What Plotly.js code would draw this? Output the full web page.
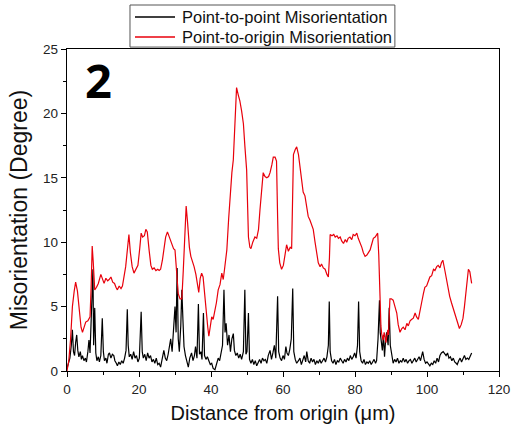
<!DOCTYPE html>
<html>
<head>
<meta charset="utf-8">
<script src="https://cdn.plot.ly/plotly-3.0.1.min.js"></script>
<style>html,body{margin:0;padding:0;background:#fff;}#chart{width:518px;height:436px;}</style>
</head>
<body>
<div id="chart"></div>
<script>
// Point-to-point misorientation (black)
const p2pX = [0,0.4,0.8,1.2,1.5,1.8,2.1,2.4,2.7,3.0,3.3,3.7,4.0,4.3,4.7,5.1,5.4,5.8,6.1,6.4,6.7,7.0,7.2,7.4,7.7,8.0,8.3,8.7,9.0,9.4,9.8,10.1,10.4,10.8,11.1,11.5,11.8,12.2,12.6,13.0,13.3,13.7,14.0,14.4,14.8,15.2,15.6,16.0,16.4,16.75,17.0,17.3,17.7,18.1,18.5,18.9,19.3,19.7,20.1,20.6,20.9,21.2,21.6,22.0,22.4,22.8,23.2,23.6,24.0,24.4,24.8,25.2,25.6,26.0,26.4,26.9,27.3,27.7,28.1,28.5,28.8,29.2,29.6,30.0,30.3,30.6,30.9,31.2,31.6,31.9,32.2,32.5,32.9,33.3,33.7,34.1,34.6,35.0,35.4,35.7,36.1,36.5,36.8,37.2,37.5,37.9,38.2,38.6,39.0,39.4,39.8,40.2,40.6,41.1,41.5,42.0,42.4,42.8,43.2,43.6,43.9,44.2,44.6,45.0,45.4,45.8,46.2,46.5,46.9,47.3,47.7,48.1,48.5,49.0,49.4,49.7,50.0,50.4,50.7,51.1,51.5,51.9,52.3,52.7,53.1,53.5,53.9,54.3,54.7,55.1,55.5,55.9,56.4,56.8,57.2,57.6,58.0,58.5,58.8,59.2,59.6,60.0,60.4,60.8,61.1,61.5,61.9,62.3,62.7,63.0,63.4,63.8,64.3,64.7,65.1,65.5,65.9,66.3,66.6,67.0,67.4,67.8,68.2,68.6,69.0,69.4,69.8,70.2,70.6,71.0,71.4,71.8,72.2,72.6,72.85,73.1,73.5,73.9,74.3,74.7,75.1,75.5,75.9,76.3,76.7,77.1,77.5,77.9,78.3,78.7,79.1,79.5,79.9,80.3,80.7,81.0,81.3,81.7,82.1,82.5,82.9,83.3,83.7,84.1,84.5,84.9,85.3,85.7,86.0,86.4,86.8,87.0,87.3,87.6,87.9,88.2,88.5,88.8,89.2,89.5,89.8,90.2,90.6,91.0,91.4,91.8,92.2,92.6,93.0,93.4,93.8,94.2,94.6,95.0,95.4,95.8,96.2,96.6,97.0,97.4,97.8,98.2,98.5,98.8,99.2,99.6,100.0,100.4,100.8,101.2,101.6,102.0,102.4,102.8,103.2,103.6,104.0,104.5,104.9,105.3,105.7,106.1,106.5,106.9,107.3,107.7,108.1,108.4,108.8,109.2,109.6,110.0,110.4,110.8,111.2,111.6,112.0,112.4];
const p2pY = [0.2,0.6,1.0,2.0,3.2,1.5,1.2,2.2,2.8,1.6,1.1,1.5,0.9,1.2,0.8,1.0,0.7,1.5,2.4,1.4,3.5,6.0,7.9,2.0,4.9,1.4,0.8,1.1,0.7,1.2,4.1,1.5,0.8,1.0,0.6,1.3,1.4,1.0,1.3,1.2,0.8,0.6,0.4,0.7,0.5,0.8,0.6,1.0,1.6,4.8,2.0,1.1,1.3,0.9,1.5,1.0,1.2,0.7,1.0,4.6,1.5,1.0,1.3,0.8,1.4,1.0,1.2,0.7,0.9,0.6,1.0,0.5,0.6,0.3,0.8,1.6,1.0,0.8,1.3,1.9,2.5,1.5,3.0,5.0,3.0,8.0,2.5,1.5,3.5,6.3,4.0,1.9,1.2,0.6,0.3,1.0,1.4,0.8,1.2,1.9,1.0,5.2,1.3,1.5,0.9,4.5,1.2,0.9,1.1,0.8,0.5,0.6,0.2,0.1,0.5,1.0,0.8,1.5,2.0,6.3,3.0,3.7,2.0,2.8,1.5,2.5,2.9,1.6,1.2,1.4,1.0,1.3,0.9,1.5,6.3,1.3,1.5,4.5,0.9,0.6,0.9,0.5,0.8,0.4,0.7,0.9,0.6,1.0,0.8,0.9,0.6,1.2,1.6,0.9,1.4,2.0,1.0,5.8,1.5,1.0,0.8,1.2,0.9,1.9,1.4,1.2,1.7,2.5,6.4,1.5,0.9,0.6,0.8,1.0,0.5,0.9,1.2,0.7,1.5,0.8,0.6,1.0,0.7,0.9,0.5,0.8,0.6,0.9,0.6,0.8,1.0,0.7,1.1,2.0,5.4,1.5,0.8,0.6,0.9,0.5,0.8,0.7,1.0,0.8,0.6,0.9,0.7,1.0,0.8,1.2,0.9,1.1,1.4,1.0,2.0,5.4,1.5,0.8,0.6,0.9,0.5,0.7,0.6,0.8,0.5,0.7,0.9,0.6,0.8,2.5,5.5,3.0,2.2,1.6,2.8,1.1,2.4,3.0,2.0,4.9,2.0,1.2,0.6,0.9,0.7,1.0,0.6,0.8,0.7,1.0,0.7,0.9,0.6,0.8,0.9,0.6,0.8,1.0,0.7,0.9,1.1,0.8,1.2,1.5,0.9,0.6,0.7,0.5,0.4,0.6,0.5,0.8,0.6,1.0,0.7,1.2,1.4,1.5,1.3,1.2,1.4,1.0,1.1,0.8,1.0,0.7,0.6,0.5,0.8,1.0,0.7,1.0,1.2,0.9,1.0,0.9,1.2,1.4];

// Point-to-origin misorientation (red)
const p2oX = [0,0.5,1.0,1.5,2.0,2.4,2.9,3.4,3.9,4.3,4.8,5.2,5.8,6.4,6.7,7.0,7.3,7.7,8.2,8.7,9.4,9.9,10.3,10.8,11.3,11.7,12.2,12.7,13.2,13.6,14.0,14.5,15.0,15.4,15.9,16.3,16.8,17.2,17.6,18.1,18.6,19.2,19.7,20.2,20.6,21.0,21.5,21.9,22.3,22.8,23.3,23.7,24.2,24.7,25.2,25.6,26.0,26.5,26.9,27.4,27.9,28.3,28.8,29.2,29.6,30.0,30.3,30.5,30.9,31.4,31.9,32.3,32.7,33.1,33.5,34.0,34.4,34.9,35.3,35.8,36.2,36.6,37.0,37.4,37.8,38.3,38.7,39.1,39.4,39.8,40.2,40.6,41.1,41.5,42.0,42.5,43.0,43.4,43.8,44.4,44.9,45.3,45.8,46.2,46.6,47.1,47.6,48.0,48.5,49.0,49.4,49.9,50.2,50.4,50.8,51.1,51.6,52.2,52.7,53.2,53.6,54.1,54.5,55.0,55.5,56.0,56.4,56.9,57.3,57.8,58.2,58.5,58.7,59.1,59.6,60.1,60.6,61.0,61.5,62.0,62.4,62.7,62.9,63.4,63.8,64.3,64.8,65.2,65.6,66.1,66.6,67.0,67.5,68.0,68.4,68.9,69.4,69.8,70.3,70.7,71.2,71.7,72.2,72.6,72.9,73.1,73.6,74.1,74.5,75.0,75.4,75.9,76.3,76.8,77.3,77.7,78.1,78.6,79.1,79.5,80.0,80.5,80.9,81.4,81.9,82.3,82.8,83.3,83.8,84.2,84.7,85.1,85.6,86.0,86.3,86.6,86.9,87.2,87.4,87.8,88.1,88.3,88.6,88.8,89.1,89.3,89.5,89.7,90.1,90.6,91.1,91.6,92.0,92.5,93.0,93.4,93.9,94.4,94.8,95.3,95.7,96.2,96.7,97.1,97.6,98.1,98.5,99.0,99.4,99.9,100.3,100.8,101.3,101.8,102.2,102.7,103.1,103.6,104.0,104.4,104.9,105.3,105.8,106.3,106.8,107.3,107.8,108.2,108.6,109.0,109.5,110.0,110.4,110.8,111.2,111.5,111.9,112.2,112.4];
const p2oY = [0,0.8,2.5,5.0,6.2,6.9,6.2,4.5,3.4,3.0,3.4,3.8,3.9,4.2,6.5,9.7,8.4,6.3,6.5,6.8,7.5,7.0,6.8,7.2,7.0,7.1,7.3,6.9,6.8,6.5,6.3,6.6,6.4,6.6,7.5,8.1,9.5,10.6,9.2,8.1,7.6,8.0,8.2,9.5,10.7,10.4,10.5,11.0,10.8,9.4,8.2,7.9,8.0,7.8,7.9,7.8,7.9,8.6,9.6,10.4,10.8,10.5,10.2,9.8,9.5,9.4,8.2,7.3,6.0,5.6,5.6,7.8,10.8,12.8,11.5,9.6,8.9,8.5,8.1,7.5,6.7,6.1,7.2,7.6,7.3,5.6,4.5,3.4,2.7,3.6,4.2,4.0,4.6,5.3,6.3,6.7,7.6,7.1,8.0,9.4,11.8,13.8,15.4,16.4,19.5,22.0,21.4,21.0,20.2,19.2,17.5,15.6,12.5,10.4,9.6,9.5,10.0,10.4,10.3,11.0,12.5,14.0,15.4,15.1,15.0,15.1,15.4,16.0,16.6,16.6,16.3,12.0,9.5,8.4,7.9,8.2,9.3,9.8,9.3,9.6,9.5,13.5,16.8,17.2,17.4,16.8,15.6,15.1,13.9,13.6,12.8,12.0,11.7,11.3,11.0,10.0,9.0,8.4,8.1,8.3,8.0,7.9,7.5,7.3,8.8,10.6,10.5,10.6,10.4,10.5,10.3,10.4,10.1,9.9,10.2,10.0,10.3,10.4,10.2,10.6,10.5,10.7,10.3,10.0,9.6,9.2,8.9,9.0,9.2,9.4,9.9,10.3,10.4,10.6,10.7,9.0,5.8,3.5,2.9,2.4,3.0,2.7,2.2,2.6,3.2,2.8,4.5,5.6,5.6,5.5,5.0,4.5,3.6,3.0,3.3,3.4,3.2,3.7,3.5,3.9,4.0,4.1,4.5,4.2,4.0,4.6,5.3,6.0,6.5,6.6,7.0,7.3,7.4,7.9,7.8,8.1,8.2,8.0,8.4,8.6,7.9,7.2,6.4,5.8,5.3,4.8,4.3,3.9,3.5,3.3,3.6,4.1,5.0,6.1,7.5,7.9,7.7,7.3,6.8];

const seriesNames = ["Point-to-point Misorientation", "Point-to-origin Misorientation"];
const seriesColors = ["#000000", "#e8000b"];
const xTitle = "Distance from origin (\u03bcm)";
const yTitle = "Misorientation (Degree)";
const panelLabel = "2";

const traces = [
  {x: p2pX, y: p2pY, name: seriesNames[0], type: "scatter", mode: "lines",
   line: {color: seriesColors[0], width: 1.2}},
  {x: p2oX, y: p2oY, name: seriesNames[1], type: "scatter", mode: "lines",
   line: {color: seriesColors[1], width: 1.2}}
];

const fam = "Liberation Sans, Arial, sans-serif";
const axisCommon = {
  showline: true, linecolor: "#000", linewidth: 1.3, mirror: true,
  showgrid: false, zeroline: false,
  ticks: "outside", ticklen: 5, tickwidth: 1, tickcolor: "#000",
  tickfont: {family: fam, size: 13.5, color: "#222"}
};

// hand-drawn legend box (text stays real text)
const legBox = {x0: 0.1458, x1: 0.759, y0: 1.006, y1: 1.1366};
const legRowsY = [1.0994, 1.0373];
const legLine = [0.1574, 0.2500];
const legTextX = 0.2616;

const shapes = [{type: "rect", xref: "paper", yref: "paper",
  x0: legBox.x0, x1: legBox.x1, y0: legBox.y0, y1: legBox.y1,
  line: {color: "#555", width: 1}, fillcolor: "#fff", layer: "above"}];
const annotations = [];
seriesNames.forEach((nm, i) => {
  shapes.push({type: "line", xref: "paper", yref: "paper",
    x0: legLine[0], x1: legLine[1], y0: legRowsY[i], y1: legRowsY[i],
    line: {color: seriesColors[i], width: 1.3}, layer: "above"});
  annotations.push({text: nm, xref: "paper", yref: "paper", x: legTextX, y: legRowsY[i],
    xanchor: "left", yanchor: "middle", showarrow: false,
    font: {family: fam, size: 16.5, color: "#111"}});
});
annotations.push({
  text: "<b>" + panelLabel + "</b>", xref: "paper", yref: "paper",
  x: 0.073, y: 0.905, xanchor: "center", yanchor: "middle", showarrow: false,
  font: {family: "Open Sans, DejaVu Sans, sans-serif", size: 47, color: "#000", weight: 800}
});

const layout = {
  width: 518, height: 436,
  margin: {l: 67, r: 19, t: 49, b: 65, autoexpand: false},
  paper_bgcolor: "#fff", plot_bgcolor: "#fff",
  showlegend: false,
  xaxis: Object.assign({}, axisCommon, {
    range: [0, 120], tickvals: [0, 20, 40, 60, 80, 100, 120],
    minor: {tickvals: [10, 30, 50, 70, 90, 110], ticks: "outside", ticklen: 3, tickcolor: "#000"},
    title: {text: xTitle, standoff: 10, font: {family: fam, size: 20, color: "#111"}}
  }),
  yaxis: Object.assign({}, axisCommon, {
    range: [0, 25], tickvals: [0, 5, 10, 15, 20, 25],
    minor: {tickvals: [2.5, 7.5, 12.5, 17.5, 22.5], ticks: "outside", ticklen: 3, tickcolor: "#000"},
    title: {text: yTitle, standoff: 9, font: {family: fam, size: 23, color: "#111"}}
  }),
  shapes: shapes,
  annotations: annotations
};

Plotly.newPlot("chart", traces, layout, {displayModeBar: false, staticPlot: true});
</script>
</body>
</html>
